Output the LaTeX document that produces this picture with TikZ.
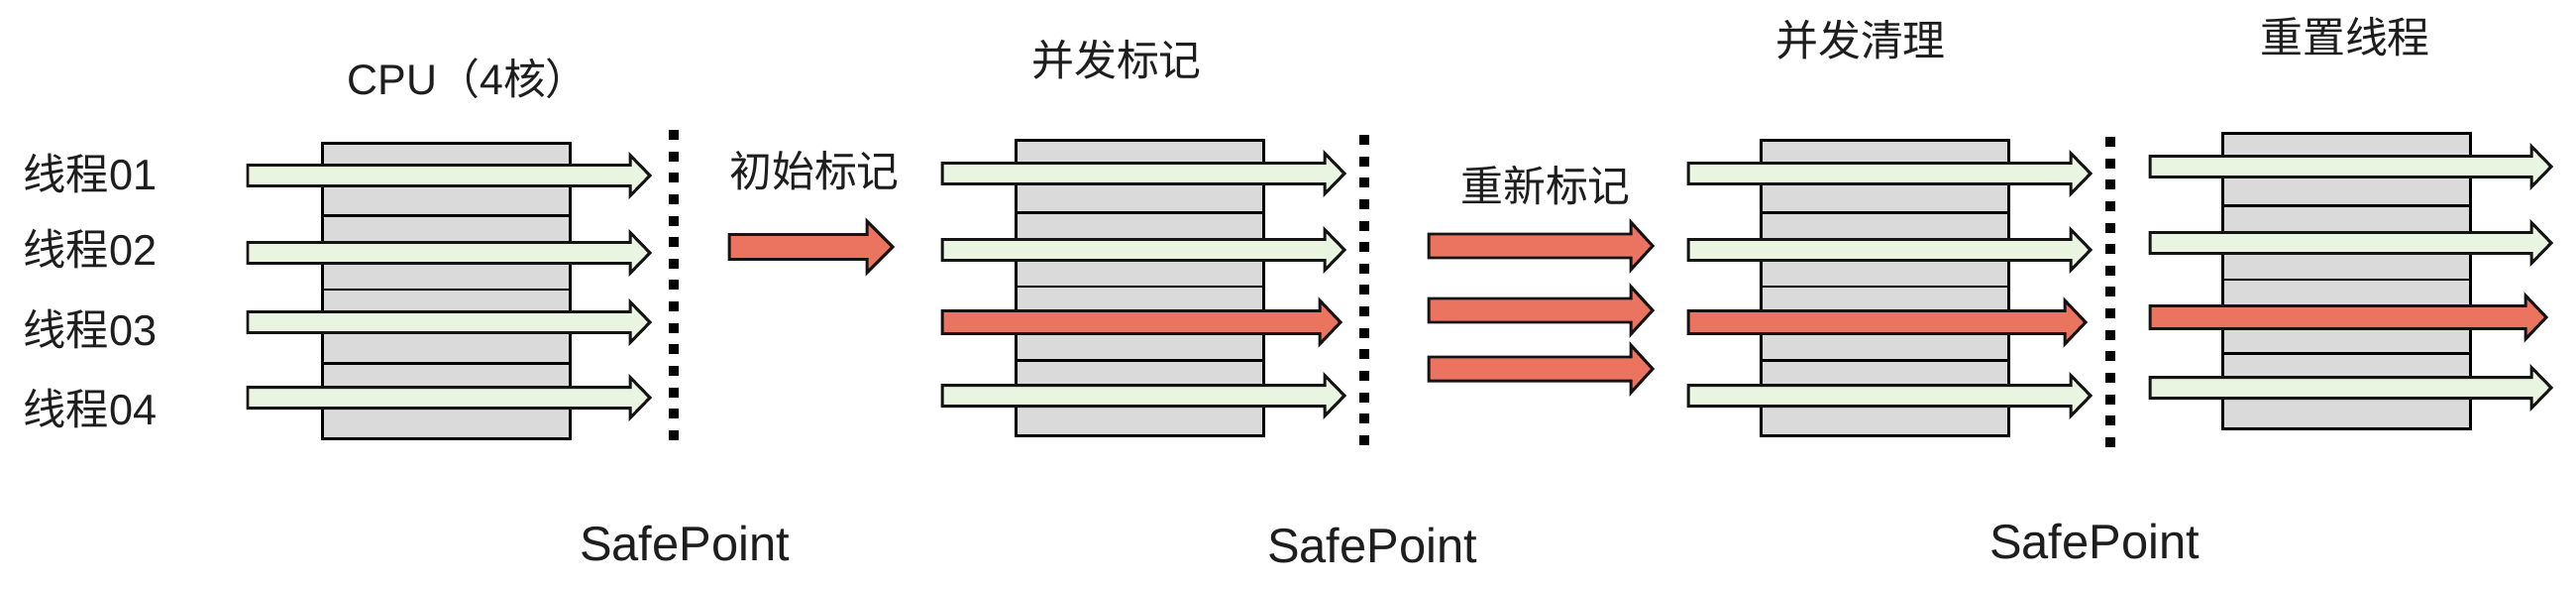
\documentclass[tikz,border=0pt]{standalone}
\usepackage{fontspec}
\setmainfont{Liberation Sans}
\newfontfamily\cjk{Noto Sans CJK SC}
\definecolor{argreen}{RGB}{233,244,225}
\definecolor{arred}{RGB}{234,116,95}
\definecolor{boxgray}{RGB}{218,218,218}
\definecolor{edge}{RGB}{20,20,20}
\definecolor{txt}{RGB}{30,30,30}
% block arrow: #1 style, #2 x start, #3 x tip, #4 y centre, #5 shaft half, #6 head half, #7 head length
\newcommand\blockarr[7]{%
  \draw[#1] (#2,#4-#5) -- (#3-#7,#4-#5) -- (#3-#7,#4-#6) -- (#3,#4)
    -- (#3-#7,#4+#6) -- (#3-#7,#4+#5) -- (#2,#4+#5) -- cycle;}
% cpu stack: #1 name, #2 x left, #3 y top
\newcommand\cpustack[3]{%
  \node[cpubox, anchor=north west] (#1) at (#2,#3) {};
  \foreach \k in {1,2,3} \draw[rowline] (#2,#3+\k*74.5) -- (#2+250,#3+\k*74.5);}
\begin{document}
\begin{tikzpicture}[x=0.01cm,y=-0.01cm,
  garrow/.style={fill=argreen, draw=edge, line width=0.85pt, line join=miter},
  rarrow/.style={fill=arred, draw=edge, line width=0.85pt, line join=miter},
  cpubox/.style={draw=black, fill=boxgray, line width=0.9pt, inner sep=0pt,
    minimum width=2.5cm, minimum height=2.98cm},
  rowline/.style={draw=black, line width=0.65pt},
  spdots/.style={draw=black, line width=2.85pt, dash pattern=on 2.85pt off 3.3pt},
  cjklabel/.style={font=\cjk\fontsize{12.2pt}{14pt}\selectfont, text=txt, inner sep=0pt, anchor=base},
  thread/.style={font=\fontsize{12.3pt}{14pt}\selectfont, text=txt, inner sep=0pt, anchor=base west},
  sp/.style={font=\fontsize{13.9pt}{16pt}\selectfont, text=txt, inner sep=0pt, anchor=base}]
\useasboundingbox[fill=white] (0,0) rectangle (2600,594);

% CPU stacks
\cpustack{cpu1}{324}{143}
\cpustack{cpu2}{1024}{140}
\cpustack{cpu3}{1776}{140}
\cpustack{cpu4}{2242}{133}

% labels
\node[font=\fontsize{12.2pt}{14pt}\selectfont, text=txt, inner sep=0pt, anchor=base west] (cpulbl) at (350,95) {CPU{\cjk （}4{\cjk 核）}};
\node[thread] (t1) at (23,191) {{\cjk 线程}01};
\node[thread] (t2) at (23,267) {{\cjk 线程}02};
\node[thread] (t3) at (23,348) {{\cjk 线程}03};
\node[thread] (t4) at (23,428) {{\cjk 线程}04};
\node[cjklabel] (init) at (822,188) {初始标记};
\node[cjklabel] (cmark) at (1127,76) {并发标记};
\node[cjklabel] (remark) at (1560,203) {重新标记};
\node[cjklabel] (csweep) at (1878,57) {并发清理};
\node[cjklabel] (reset) at (2367,54) {重置线程};
\node[sp] (sp1) at (691,565) {SafePoint};
\node[sp] (sp2) at (1385,567) {SafePoint};
\node[sp] (sp3) at (2114,563) {SafePoint};

% safepoint lines
\draw[spdots] (680,131) -- (680,450);
\draw[spdots] (1377,136) -- (1377,456);
\draw[spdots] (2130,138) -- (2130,456);

% stage 1
\blockarr{garrow}{250}{656}{177}{10.5}{20.5}{20}
\blockarr{garrow}{250}{656}{255}{10.5}{20.5}{20}
\blockarr{garrow}{250}{656}{325}{10.5}{20.5}{20}
\blockarr{garrow}{250}{656}{401}{10.5}{20.5}{20}
% initial mark
\blockarr{rarrow}{736}{901}{249}{12.5}{26}{26}
% stage 2
\blockarr{garrow}{951}{1357}{175}{10.5}{20.5}{20}
\blockarr{garrow}{951}{1357}{252}{10.5}{20.5}{20}
\blockarr{rarrow}{951}{1353}{325}{11.5}{22}{21}
\blockarr{garrow}{951}{1357}{399}{10.5}{20.5}{20}
% remark
\blockarr{rarrow}{1442}{1668}{248}{12}{24}{22}
\blockarr{rarrow}{1442}{1668}{313}{12}{24}{22}
\blockarr{rarrow}{1442}{1668}{372}{12}{24}{22}
% stage 3
\blockarr{garrow}{1704}{2110}{175}{10.5}{20.5}{20}
\blockarr{garrow}{1704}{2110}{252}{10.5}{20.5}{20}
\blockarr{rarrow}{1704}{2105}{325}{11.5}{22}{21}
\blockarr{garrow}{1704}{2110}{399}{10.5}{20.5}{20}
% stage 4
\blockarr{garrow}{2170}{2575}{168}{10.5}{20.5}{20}
\blockarr{garrow}{2170}{2575}{245}{10.5}{20.5}{20}
\blockarr{rarrow}{2170}{2570}{320}{11.5}{22}{21}
\blockarr{garrow}{2170}{2575}{391}{10.5}{20.5}{20}
\end{tikzpicture}
\end{document}
